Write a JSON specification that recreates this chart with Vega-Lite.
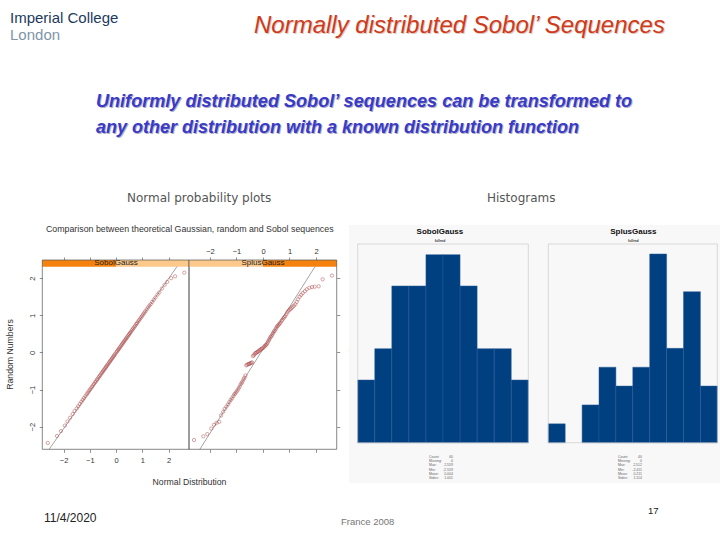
{"$schema":"https://vega.github.io/schema/vega-lite/v6.json","width":720,"height":540,"padding":0,"autosize":{"type":"fit","contains":"padding"},"background":"white","config":{"view":{"stroke":null},"font":"Liberation Sans","axis":{"grid":false,"domain":false,"labelFont":"Liberation Sans","titleFont":"Liberation Sans","titleFontWeight":"normal"}},"datasets":{"qqSobol":[{"x":2.6,"y":2.15},{"x":2.25,"y":2.05},{"x":2.1,"y":2.0},{"x":1.95,"y":1.9},{"x":1.85,"y":1.82},{"x":1.75,"y":1.72},{"x":1.65,"y":1.62},{"x":1.58,"y":1.56},{"x":1.5,"y":1.48},{"x":1.44,"y":1.42},{"x":1.38,"y":1.36},{"x":1.32,"y":1.3},{"x":1.27,"y":1.26},{"x":1.22,"y":1.21},{"x":1.17,"y":1.16},{"x":1.12,"y":1.11},{"x":1.08,"y":1.07},{"x":1.04,"y":1.03},{"x":1.0,"y":0.99},{"x":0.96,"y":0.95},{"x":0.92,"y":0.91},{"x":0.88,"y":0.87},{"x":0.84,"y":0.83},{"x":0.8,"y":0.79},{"x":0.77,"y":0.76},{"x":0.73,"y":0.72},{"x":0.7,"y":0.69},{"x":0.66,"y":0.65},{"x":0.63,"y":0.62},{"x":0.6,"y":0.59},{"x":0.56,"y":0.55},{"x":0.53,"y":0.52},{"x":0.5,"y":0.49},{"x":0.47,"y":0.46},{"x":0.44,"y":0.43},{"x":0.41,"y":0.4},{"x":0.38,"y":0.37},{"x":0.35,"y":0.34},{"x":0.32,"y":0.31},{"x":0.29,"y":0.28},{"x":0.26,"y":0.25},{"x":0.23,"y":0.22},{"x":0.2,"y":0.19},{"x":0.17,"y":0.16},{"x":0.14,"y":0.13},{"x":0.11,"y":0.1},{"x":0.08,"y":0.07},{"x":0.05,"y":0.04},{"x":0.02,"y":0.01},{"x":-0.02,"y":-0.03},{"x":-0.05,"y":-0.06},{"x":-0.08,"y":-0.09},{"x":-0.11,"y":-0.12},{"x":-0.14,"y":-0.15},{"x":-0.17,"y":-0.18},{"x":-0.2,"y":-0.21},{"x":-0.23,"y":-0.24},{"x":-0.26,"y":-0.27},{"x":-0.29,"y":-0.3},{"x":-0.32,"y":-0.33},{"x":-0.35,"y":-0.36},{"x":-0.38,"y":-0.39},{"x":-0.41,"y":-0.42},{"x":-0.44,"y":-0.45},{"x":-0.47,"y":-0.48},{"x":-0.5,"y":-0.51},{"x":-0.53,"y":-0.54},{"x":-0.56,"y":-0.57},{"x":-0.6,"y":-0.61},{"x":-0.63,"y":-0.64},{"x":-0.66,"y":-0.67},{"x":-0.7,"y":-0.71},{"x":-0.73,"y":-0.74},{"x":-0.77,"y":-0.78},{"x":-0.8,"y":-0.81},{"x":-0.84,"y":-0.85},{"x":-0.88,"y":-0.89},{"x":-0.92,"y":-0.93},{"x":-0.96,"y":-0.97},{"x":-1.0,"y":-1.01},{"x":-1.04,"y":-1.05},{"x":-1.08,"y":-1.09},{"x":-1.12,"y":-1.13},{"x":-1.17,"y":-1.18},{"x":-1.22,"y":-1.23},{"x":-1.27,"y":-1.28},{"x":-1.32,"y":-1.33},{"x":-1.38,"y":-1.39},{"x":-1.44,"y":-1.45},{"x":-1.5,"y":-1.51},{"x":-1.58,"y":-1.58},{"x":-1.65,"y":-1.66},{"x":-1.75,"y":-1.76},{"x":-1.85,"y":-1.86},{"x":-1.95,"y":-1.97},{"x":-2.1,"y":-2.12},{"x":-2.25,"y":-2.25},{"x":-2.6,"y":-2.44}],"qqSplus":[{"x":2.6,"y":2.07},{"x":2.25,"y":1.97},{"x":2.1,"y":1.78},{"x":1.95,"y":1.77},{"x":1.85,"y":1.76},{"x":1.75,"y":1.74},{"x":1.65,"y":1.7},{"x":1.58,"y":1.65},{"x":1.5,"y":1.6},{"x":1.44,"y":1.55},{"x":1.38,"y":1.5},{"x":1.32,"y":1.43},{"x":1.27,"y":1.36},{"x":1.22,"y":1.3},{"x":1.17,"y":1.26},{"x":1.12,"y":1.23},{"x":1.08,"y":1.2},{"x":1.04,"y":1.17},{"x":1.0,"y":1.15},{"x":0.96,"y":1.12},{"x":0.92,"y":1.08},{"x":0.88,"y":1.03},{"x":0.84,"y":0.98},{"x":0.8,"y":0.95},{"x":0.77,"y":0.92},{"x":0.73,"y":0.88},{"x":0.7,"y":0.85},{"x":0.66,"y":0.8},{"x":0.63,"y":0.78},{"x":0.6,"y":0.75},{"x":0.56,"y":0.72},{"x":0.53,"y":0.7},{"x":0.5,"y":0.66},{"x":0.47,"y":0.62},{"x":0.44,"y":0.58},{"x":0.41,"y":0.56},{"x":0.38,"y":0.52},{"x":0.35,"y":0.48},{"x":0.32,"y":0.44},{"x":0.29,"y":0.42},{"x":0.26,"y":0.38},{"x":0.23,"y":0.34},{"x":0.2,"y":0.3},{"x":0.17,"y":0.26},{"x":0.14,"y":0.22},{"x":0.11,"y":0.2},{"x":0.08,"y":0.18},{"x":0.05,"y":0.16},{"x":0.02,"y":0.13},{"x":-0.02,"y":0.11},{"x":-0.05,"y":0.1},{"x":-0.08,"y":0.08},{"x":-0.11,"y":0.07},{"x":-0.14,"y":0.05},{"x":-0.17,"y":0.03},{"x":-0.2,"y":0.02},{"x":-0.23,"y":0.0},{"x":-0.26,"y":-0.01},{"x":-0.29,"y":-0.02},{"x":-0.32,"y":-0.05},{"x":-0.35,"y":-0.08},{"x":-0.38,"y":-0.1},{"x":-0.41,"y":-0.27},{"x":-0.44,"y":-0.28},{"x":-0.47,"y":-0.29},{"x":-0.5,"y":-0.3},{"x":-0.53,"y":-0.31},{"x":-0.56,"y":-0.32},{"x":-0.6,"y":-0.33},{"x":-0.63,"y":-0.35},{"x":-0.66,"y":-0.62},{"x":-0.7,"y":-0.68},{"x":-0.73,"y":-0.72},{"x":-0.77,"y":-0.78},{"x":-0.8,"y":-0.82},{"x":-0.84,"y":-0.86},{"x":-0.88,"y":-0.92},{"x":-0.92,"y":-0.97},{"x":-0.96,"y":-1.02},{"x":-1.0,"y":-1.06},{"x":-1.04,"y":-1.1},{"x":-1.08,"y":-1.13},{"x":-1.12,"y":-1.18},{"x":-1.17,"y":-1.24},{"x":-1.22,"y":-1.28},{"x":-1.27,"y":-1.34},{"x":-1.32,"y":-1.4},{"x":-1.38,"y":-1.46},{"x":-1.44,"y":-1.52},{"x":-1.5,"y":-1.6},{"x":-1.58,"y":-1.7},{"x":-1.65,"y":-1.87},{"x":-1.75,"y":-1.9},{"x":-1.85,"y":-1.95},{"x":-1.95,"y":-2.05},{"x":-2.1,"y":-2.2},{"x":-2.25,"y":-2.26},{"x":-2.6,"y":-2.36}],"histSobol":[{"lo":-2.5,"hi":-2.0,"count":2},{"lo":-2.0,"hi":-1.5,"count":3},{"lo":-1.5,"hi":-1.0,"count":5},{"lo":-1.0,"hi":-0.5,"count":5},{"lo":-0.5,"hi":0.0,"count":6},{"lo":0.0,"hi":0.5,"count":6},{"lo":0.5,"hi":1.0,"count":5},{"lo":1.0,"hi":1.5,"count":3},{"lo":1.5,"hi":2.0,"count":3},{"lo":2.0,"hi":2.5,"count":2}],"histSplus":[{"lo":-2.4,"hi":-1.9,"count":1},{"lo":-1.4,"hi":-0.9,"count":2},{"lo":-0.9,"hi":-0.4,"count":4},{"lo":-0.4,"hi":0.1,"count":3},{"lo":0.1,"hi":0.6,"count":4},{"lo":0.6,"hi":1.1,"count":10},{"lo":1.1,"hi":1.6,"count":5},{"lo":1.6,"hi":2.1,"count":8},{"lo":2.1,"hi":2.6,"count":3}],"statsSobol":[{"k":"Count:","v":"40"},{"k":"Missing:","v":"0"},{"k":"Max:","v":"2.559"},{"k":"Min:","v":"-2.559"},{"k":"Mean:","v":"0.004"},{"k":"Stdev:","v":"1.001"}],"statsSplus":[{"k":"Count:","v":"40"},{"k":"Missing:","v":"0"},{"k":"Max:","v":"2.512"},{"k":"Min:","v":"-2.411"},{"k":"Mean:","v":"0.211"},{"k":"Stdev:","v":"1.114"}]},"resolve":{"scale":{"x":"independent","y":"independent"},"axis":{"x":"independent","y":"independent"}},"layer":[
{"data":{"values":[{"panel":"histogram background"}]},"mark":{"type":"rect","fill":"#f8f8f8"},"encoding":{"x":{"datum":48.47,"type":"quantitative","scale":{"domain":[0,100],"range":[0,720],"nice":false},"axis":null},"x2":{"datum":100},"y":{"datum":41.67,"type":"quantitative","scale":{"domain":[0,100],"range":[0,540],"nice":false},"axis":null},"y2":{"datum":89.44}}},
{"resolve":{"axis":{"x":"independent","y":"independent"}},"layer":[
{"data":{"values":[{"panel":"SobolGauss","from":-2.81,"to":0,"part":"level"},{"panel":"SobolGauss","from":0,"to":2.78,"part":"rest"}]},"mark":{"type":"rect"},"encoding":{"x":{"field":"from","type":"quantitative","axis":null,"scale":{"domain":[-2.81,2.78],"range":[42.3,189],"nice":false}},"x2":{"field":"to"},"y":{"datum":2.31,"type":"quantitative","axis":null,"scale":{"domain":[-2.61,2.49],"range":[449.3,260],"nice":false}},"y2":{"datum":2.49},"color":{"field":"part","type":"nominal","legend":null,"scale":{"domain":["level","rest"],"range":["#f5820f","#fdc98a"]}}}},
{"data":{"values":[{"panel":"SobolGauss"}]},"mark":{"type":"rect","filled":false,"stroke":"#555555","strokeWidth":0.7},"encoding":{"x":{"datum":-2.81,"type":"quantitative","axis":null},"x2":{"datum":2.78},"y":{"datum":-2.61,"type":"quantitative","axis":null},"y2":{"datum":2.49}}},
{"data":{"values":[{"x":-2.55,"y":-2.61},{"x":2.32,"y":2.31}]},"mark":{"type":"line","stroke":"#666666","strokeWidth":0.6},"encoding":{"x":{"field":"x","type":"quantitative","axis":{"orient":"top","offset":-260,"values":[-2,-1,0,1,2],"labels":false,"ticks":true,"tickSize":3,"tickColor":"#444444","tickWidth":0.6,"title":null}},"y":{"field":"y","type":"quantitative","axis":null}}},
{"data":{"name":"qqSobol"},"mark":{"type":"point","shape":"circle","filled":false,"size":11,"stroke":"#b04848","strokeWidth":0.7},"encoding":{"x":{"field":"x","type":"quantitative","axis":{"orient":"bottom","offset":-90.7,"values":[-2,-1,0,1,2],"tickSize":3,"tickColor":"#444444","tickWidth":0.6,"labelFontSize":7.5,"labelColor":"#333333","labelPadding":4,"title":"Normal Distribution","titleFontSize":8.7,"titleColor":"#333333","titleX":189,"titleY":28}},"y":{"field":"y","type":"quantitative","axis":{"orient":"left","offset":-42.3,"values":[-2,-1,0,1,2],"tickSize":3,"tickColor":"#444444","tickWidth":0.6,"labelFontSize":7.5,"labelColor":"#333333","labelAngle":-90,"labelPadding":3,"title":"Random Numbers","titleFontSize":8.7,"titleColor":"#333333","titleX":-28,"titleY":354}}}},
{"data":{"values":[{"label":"SobolGauss"}]},"mark":{"type":"text","fontSize":8,"color":"#222222","baseline":"middle"},"encoding":{"text":{"field":"label"},"x":{"datum":0,"type":"quantitative","axis":null},"y":{"datum":2.4,"type":"quantitative","axis":null}}}
]},
{"resolve":{"axis":{"x":"independent","y":"independent"}},"layer":[
{"data":{"values":[{"panel":"SplusGauss","from":-2.79,"to":0,"part":"rest"},{"panel":"SplusGauss","from":0,"to":2.78,"part":"level"}]},"mark":{"type":"rect"},"encoding":{"x":{"field":"from","type":"quantitative","axis":null,"scale":{"domain":[-2.79,2.78],"range":[189,336.7],"nice":false}},"x2":{"field":"to"},"y":{"datum":2.31,"type":"quantitative","axis":null,"scale":{"domain":[-2.61,2.49],"range":[449.3,260],"nice":false}},"y2":{"datum":2.49},"color":{"field":"part","type":"nominal","legend":null,"scale":{"domain":["level","rest"],"range":["#f5820f","#fdc98a"]}}}},
{"data":{"values":[{"panel":"SplusGauss"}]},"mark":{"type":"rect","filled":false,"stroke":"#555555","strokeWidth":0.7},"encoding":{"x":{"datum":-2.79,"type":"quantitative","axis":null},"x2":{"datum":2.78},"y":{"datum":-2.61,"type":"quantitative","axis":null},"y2":{"datum":2.49}}},
{"data":{"values":[{"x":-2.38,"y":-2.61},{"x":1.96,"y":2.31}]},"mark":{"type":"line","stroke":"#666666","strokeWidth":0.6},"encoding":{"x":{"field":"x","type":"quantitative","axis":{"orient":"top","offset":-260,"values":[-2,-1,0,1,2],"tickSize":3,"tickColor":"#444444","tickWidth":0.6,"labelFontSize":7.5,"labelColor":"#333333","labelPadding":2,"title":null}},"y":{"field":"y","type":"quantitative","axis":{"orient":"right","offset":-383.3,"values":[-2,-1,0,1,2],"labels":false,"tickSize":3,"tickColor":"#444444","tickWidth":0.6,"title":null}}}},
{"data":{"name":"qqSplus"},"mark":{"type":"point","shape":"circle","filled":false,"size":11,"stroke":"#b04848","strokeWidth":0.7},"encoding":{"x":{"field":"x","type":"quantitative","axis":{"orient":"bottom","offset":-90.7,"values":[-2,-1,0,1,2],"labels":false,"tickSize":3,"tickColor":"#444444","tickWidth":0.6,"title":null}},"y":{"field":"y","type":"quantitative","axis":null}}},
{"data":{"values":[{"label":"SplusGauss"}]},"mark":{"type":"text","fontSize":8,"color":"#222222","baseline":"middle"},"encoding":{"text":{"field":"label"},"x":{"datum":0,"type":"quantitative","axis":null},"y":{"datum":2.4,"type":"quantitative","axis":null}}}
]},
{"resolve":{"axis":{"x":"independent","y":"independent"}},"layer":[
{"data":{"name":"histSobol"},"mark":{"type":"rect","fill":"#003f80","stroke":"#2a5c94","strokeWidth":0.5},"encoding":{"x":{"field":"lo","type":"quantitative","scale":{"domain":[-2.5,2.5],"range":[357.7,528.3],"nice":false},"axis":{"orient":"bottom","offset":-97.3,"values":[-2.5,-2.25,-2,-1.75,-1.5,-1.25,-1,-0.75,-0.5,-0.25,0,0.25,0.5,0.75,1,1.25,1.5,1.75,2,2.25,2.5],"format":".2f","labelOverlap":false,"labelFlush":false,"tickSize":1,"tickColor":"#aaaaaa","labelFontSize":2.6,"labelColor":"#666666","labelPadding":1,"title":"Bin range","titleFontSize":3,"titleColor":"#444444","titlePadding":2}},"x2":{"field":"hi"},"y":{"field":"count","type":"quantitative","scale":{"domain":[0,6.34],"range":[442.7,244],"nice":false},"axis":{"orient":"left","offset":-357.7,"values":[0,1,2,3,4,5,6],"tickSize":1,"tickColor":"#aaaaaa","labelFontSize":2.6,"labelColor":"#666666","labelPadding":1,"title":"Frequency","titleFontSize":3,"titleColor":"#444444","titlePadding":2}},"y2":{"datum":0}}},
{"data":{"values":[{"panel":"SobolGauss"}]},"mark":{"type":"rect","filled":false,"stroke":"#c4c4c4","strokeWidth":0.6},"encoding":{"x":{"datum":-2.5,"type":"quantitative","axis":null},"x2":{"datum":2.5},"y":{"datum":0,"type":"quantitative","axis":null},"y2":{"datum":6.34}}},
{"data":{"values":[{"label":"SobolGauss"}]},"mark":{"type":"text","fontSize":8,"fontWeight":"bold","color":"#111111","baseline":"middle"},"encoding":{"text":{"field":"label"},"x":{"datum":-0.09,"type":"quantitative","axis":null},"y":{"datum":6.72,"type":"quantitative","axis":null}}},
{"data":{"values":[{"label":"fullrnd"}]},"mark":{"type":"text","fontSize":3.4,"fontWeight":"bold","color":"#333333","baseline":"middle"},"encoding":{"text":{"field":"label"},"x":{"datum":-0.09,"type":"quantitative","axis":null},"y":{"datum":6.45,"type":"quantitative","axis":null}}}
]},
{"resolve":{"axis":{"x":"independent","y":"independent"}},"layer":[
{"data":{"name":"histSplus"},"mark":{"type":"rect","fill":"#003f80","stroke":"#2a5c94","strokeWidth":0.5},"encoding":{"x":{"field":"lo","type":"quantitative","scale":{"domain":[-2.4,2.6],"range":[548.3,717.3],"nice":false},"axis":{"orient":"bottom","offset":-97.3,"values":[-2.4,-2.15,-1.9,-1.65,-1.4,-1.15,-0.9,-0.65,-0.4,-0.15,0.1,0.35,0.6,0.85,1.1,1.35,1.6,1.85,2.1,2.35,2.6],"format":".2f","labelOverlap":false,"labelFlush":false,"tickSize":1,"tickColor":"#aaaaaa","labelFontSize":2.6,"labelColor":"#666666","labelPadding":1,"title":"Bin range","titleFontSize":3,"titleColor":"#444444","titlePadding":2}},"x2":{"field":"hi"},"y":{"field":"count","type":"quantitative","scale":{"domain":[0,10.53],"range":[442.7,244],"nice":false},"axis":{"orient":"left","offset":-548.3,"values":[0,1,2,3,4,5,6,7,8,9,10],"tickSize":1,"tickColor":"#aaaaaa","labelFontSize":2.6,"labelColor":"#666666","labelPadding":1,"title":"Frequency","titleFontSize":3,"titleColor":"#444444","titlePadding":2}},"y2":{"datum":0}}},
{"data":{"values":[{"panel":"SplusGauss"}]},"mark":{"type":"rect","filled":false,"stroke":"#c4c4c4","strokeWidth":0.6},"encoding":{"x":{"datum":-2.4,"type":"quantitative","axis":null},"x2":{"datum":2.6},"y":{"datum":0,"type":"quantitative","axis":null},"y2":{"datum":10.53}}},
{"data":{"values":[{"label":"SplusGauss"}]},"mark":{"type":"text","fontSize":8,"fontWeight":"bold","color":"#111111","baseline":"middle"},"encoding":{"text":{"field":"label"},"x":{"datum":0.115,"type":"quantitative","axis":null},"y":{"datum":11.17,"type":"quantitative","axis":null}}},
{"data":{"values":[{"label":"fullrnd"}]},"mark":{"type":"text","fontSize":3.4,"fontWeight":"bold","color":"#333333","baseline":"middle"},"encoding":{"text":{"field":"label"},"x":{"datum":0.115,"type":"quantitative","axis":null},"y":{"datum":10.7,"type":"quantitative","axis":null}}}
]},
{"data":{"name":"statsSobol"},"layer":[
{"mark":{"type":"text","fontSize":3.5,"color":"#666666","align":"left","baseline":"middle"},"encoding":{"text":{"field":"k"},"x":{"datum":-0.41,"type":"quantitative","axis":null,"scale":{"domain":[-2.5,2.5],"range":[357.7,528.3],"nice":false}},"y":{"field":"k","type":"nominal","axis":null,"scale":{"type":"point","domain":["Count:","Missing:","Max:","Min:","Mean:","Stdev:"],"range":[457,478],"padding":0}}}},
{"mark":{"type":"text","fontSize":3.5,"color":"#666666","align":"right","baseline":"middle"},"encoding":{"text":{"field":"v"},"x":{"datum":0.29,"type":"quantitative","axis":null},"y":{"field":"k","type":"nominal","axis":null}}}
]},
{"data":{"name":"statsSplus"},"layer":[
{"mark":{"type":"text","fontSize":3.5,"color":"#666666","align":"left","baseline":"middle"},"encoding":{"text":{"field":"k"},"x":{"datum":-0.34,"type":"quantitative","axis":null,"scale":{"domain":[-2.4,2.6],"range":[548.3,717.3],"nice":false}},"y":{"field":"k","type":"nominal","axis":null,"scale":{"type":"point","domain":["Count:","Missing:","Max:","Min:","Mean:","Stdev:"],"range":[457,478],"padding":0}}}},
{"mark":{"type":"text","fontSize":3.5,"color":"#666666","align":"right","baseline":"middle"},"encoding":{"text":{"field":"v"},"x":{"datum":0.37,"type":"quantitative","axis":null},"y":{"field":"k","type":"nominal","axis":null}}}
]},
{"layer":[
{"data":{"values":[{"label":"Imperial College"}]},"mark":{"type":"text","fontSize":15,"color":"#1c3a5e","align":"left","baseline":"middle"},"encoding":{"text":{"field":"label"},"x":{"datum":1.39,"type":"quantitative","axis":null,"scale":{"domain":[0,100],"range":[0,720],"nice":false}},"y":{"datum":3.33,"type":"quantitative","axis":null,"scale":{"domain":[0,100],"range":[0,540],"nice":false}}}},
{"data":{"values":[{"label":"London"}]},"mark":{"type":"text","fontSize":15,"color":"#7f95a8","align":"left","baseline":"middle"},"encoding":{"text":{"field":"label"},"x":{"datum":1.39,"type":"quantitative","axis":null},"y":{"datum":6.48,"type":"quantitative","axis":null}}},
{"data":{"values":[{"label":"Normally distributed Sobol’ Sequences"}]},"mark":{"type":"text","fontSize":24,"fontStyle":"italic","color":"#e0c8c0","align":"left","baseline":"middle","dx":1,"dy":1},"encoding":{"text":{"field":"label"},"x":{"datum":35.28,"type":"quantitative","axis":null},"y":{"datum":4.8,"type":"quantitative","axis":null}}},
{"data":{"values":[{"label":"Normally distributed Sobol’ Sequences"}]},"mark":{"type":"text","fontSize":24,"fontStyle":"italic","color":"#d03a1a","align":"left","baseline":"middle"},"encoding":{"text":{"field":"label"},"x":{"datum":35.28,"type":"quantitative","axis":null},"y":{"datum":4.8,"type":"quantitative","axis":null}}},
{"data":{"values":[{"label":"Uniformly distributed Sobol’ sequences can be transformed to"}]},"mark":{"type":"text","fontSize":18.1,"fontStyle":"italic","fontWeight":"bold","color":"#b0b0c8","align":"left","baseline":"middle","dx":1,"dy":1},"encoding":{"text":{"field":"label"},"x":{"datum":13.33,"type":"quantitative","axis":null},"y":{"datum":18.85,"type":"quantitative","axis":null}}},
{"data":{"values":[{"label":"Uniformly distributed Sobol’ sequences can be transformed to"}]},"mark":{"type":"text","fontSize":18.1,"fontStyle":"italic","fontWeight":"bold","color":"#3a3ac8","align":"left","baseline":"middle"},"encoding":{"text":{"field":"label"},"x":{"datum":13.33,"type":"quantitative","axis":null},"y":{"datum":18.85,"type":"quantitative","axis":null}}},
{"data":{"values":[{"label":"any other distribution with a known distribution function"}]},"mark":{"type":"text","fontSize":18,"fontStyle":"italic","fontWeight":"bold","color":"#b0b0c8","align":"left","baseline":"middle","dx":1,"dy":1},"encoding":{"text":{"field":"label"},"x":{"datum":13.33,"type":"quantitative","axis":null},"y":{"datum":23.65,"type":"quantitative","axis":null}}},
{"data":{"values":[{"label":"any other distribution with a known distribution function"}]},"mark":{"type":"text","fontSize":18,"fontStyle":"italic","fontWeight":"bold","color":"#3a3ac8","align":"left","baseline":"middle"},"encoding":{"text":{"field":"label"},"x":{"datum":13.33,"type":"quantitative","axis":null},"y":{"datum":23.65,"type":"quantitative","axis":null}}},
{"data":{"values":[{"label":"Normal probability plots"}]},"mark":{"type":"text","font":"DejaVu Sans","fontSize":12,"color":"#555555","align":"left","baseline":"middle"},"encoding":{"text":{"field":"label"},"x":{"datum":17.64,"type":"quantitative","axis":null},"y":{"datum":36.67,"type":"quantitative","axis":null}}},
{"data":{"values":[{"label":"Histograms"}]},"mark":{"type":"text","font":"DejaVu Sans","fontSize":12,"color":"#555555","align":"left","baseline":"middle"},"encoding":{"text":{"field":"label"},"x":{"datum":67.64,"type":"quantitative","axis":null},"y":{"datum":36.67,"type":"quantitative","axis":null}}},
{"data":{"values":[{"label":"Comparison between theoretical Gaussian, random and Sobol sequences"}]},"mark":{"type":"text","fontSize":8.8,"color":"#333333","align":"left","baseline":"middle"},"encoding":{"text":{"field":"label"},"x":{"datum":6.39,"type":"quantitative","axis":null},"y":{"datum":42.4,"type":"quantitative","axis":null}}},
{"data":{"values":[{"label":"11/4/2020"}]},"mark":{"type":"text","fontSize":12,"color":"#222222","align":"left","baseline":"middle"},"encoding":{"text":{"field":"label"},"x":{"datum":6.11,"type":"quantitative","axis":null},"y":{"datum":95.93,"type":"quantitative","axis":null}}},
{"data":{"values":[{"label":"France 2008"}]},"mark":{"type":"text","fontSize":9.5,"color":"#777777","align":"left","baseline":"middle"},"encoding":{"text":{"field":"label"},"x":{"datum":47.36,"type":"quantitative","axis":null},"y":{"datum":96.67,"type":"quantitative","axis":null}}},
{"data":{"values":[{"label":"17"}]},"mark":{"type":"text","fontSize":9.5,"color":"#222222","align":"left","baseline":"middle"},"encoding":{"text":{"field":"label"},"x":{"datum":90,"type":"quantitative","axis":null},"y":{"datum":94.63,"type":"quantitative","axis":null}}}
]}
]}
